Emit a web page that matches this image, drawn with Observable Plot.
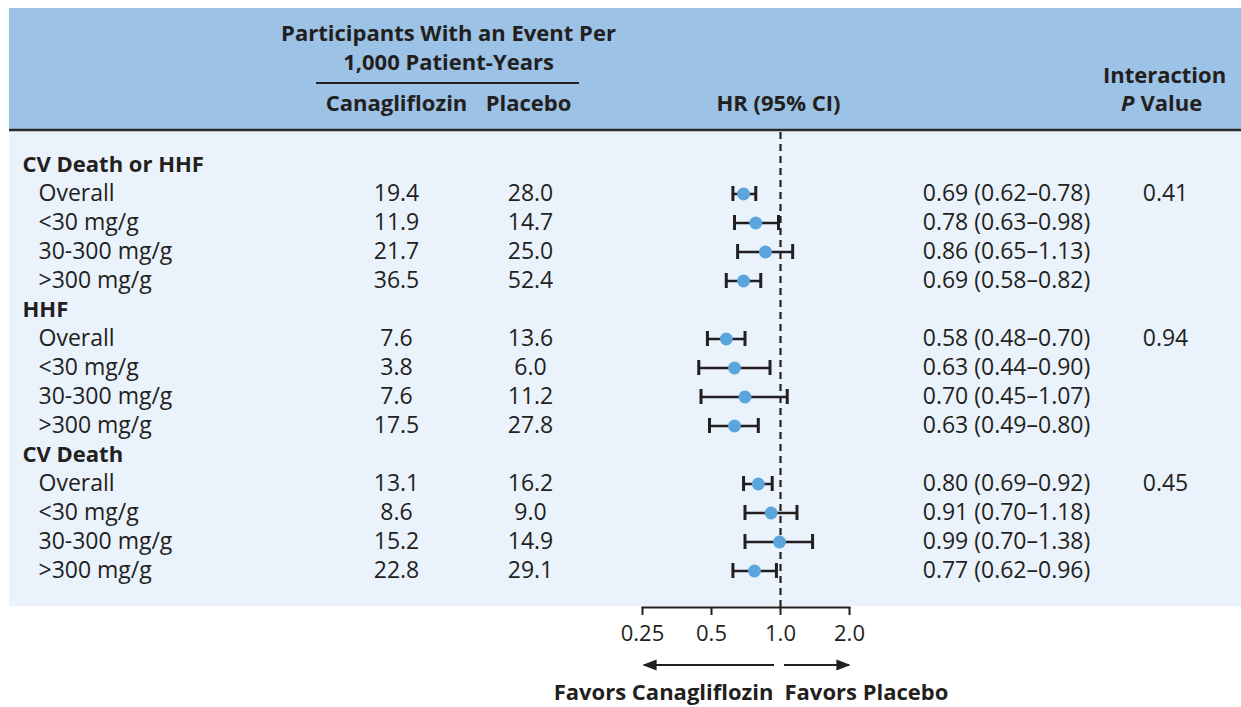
<!DOCTYPE html>
<html>
<head>
<meta charset="utf-8">
<script src="https://cdn.jsdelivr.net/npm/d3@7"></script>
<script src="https://cdn.jsdelivr.net/npm/@observablehq/plot@0.6"></script>
<style>
  html, body { margin: 0; padding: 0; background: #fff; }
  svg { display: block; }
</style>
</head>
<body>
<div id="chart"></div>
<script>
// ---- data ----
const outcomes = ["CV Death or HHF", "HHF", "CV Death"];
const subgroups = ["Overall", "<30 mg/g", "30-300 mg/g", ">300 mg/g"];
const canaRate    = [19.4, 11.9, 21.7, 36.5, 7.6, 3.8, 7.6, 17.5, 13.1, 8.6, 15.2, 22.8];
const placeboRate = [28.0, 14.7, 25.0, 52.4, 13.6, 6.0, 11.2, 27.8, 16.2, 9.0, 14.9, 29.1];
const hrEst = [0.69, 0.78, 0.86, 0.69, 0.58, 0.63, 0.70, 0.63, 0.80, 0.91, 0.99, 0.77];
const hrLow = [0.62, 0.63, 0.65, 0.58, 0.48, 0.44, 0.45, 0.49, 0.69, 0.70, 0.70, 0.62];
const hrHigh = [0.78, 0.98, 1.13, 0.82, 0.70, 0.90, 1.07, 0.80, 0.92, 1.18, 1.38, 0.96];
const pInteraction = ["0.41", "0.94", "0.45"];
const xTicks = [0.25, 0.5, 1, 2];
const xTickLabels = ["0.25", "0.5", "1.0", "2.0"];

// ---- build tables ----
const rowKeys = [];
const headerRows = [];
const subRows = [];
outcomes.forEach((o, i) => {
  rowKeys.push(o);
  headerRows.push({key: o, label: o});
  subgroups.forEach((s, j) => {
    const k = i * subgroups.length + j;
    const key = o + "|" + s;
    rowKeys.push(key);
    subRows.push({
      key, label: s,
      cana: canaRate[k].toFixed(1),
      plac: placeboRate[k].toFixed(1),
      hr: hrEst[k], lo: hrLow[k], hi: hrHigh[k],
      hrText: `${hrEst[k].toFixed(2)} (${hrLow[k].toFixed(2)}\u2013${hrHigh[k].toFixed(2)})`,
      p: j === 0 ? pInteraction[i] : ""
    });
  });
});

const W = 1241, H = 707;
const mL = 642, mR = W - 849, mT = 132, mB = H - 607;
const FONT = "'Open Sans', 'Noto Sans', sans-serif";
const ink = "#231f20";
const rowStep = (573 - 163) / 14;

// background bands (decoration)
function backgrounds() {
  const g = d3.create("svg:g");
  g.append("rect").attr("x", 9).attr("y", 8).attr("width", W - 9).attr("height", 122).attr("fill", "#9cc2e6");
  g.append("rect").attr("x", 9).attr("y", 131).attr("width", W - 9).attr("height", 475).attr("fill", "#eaf2fb");
  g.append("line").attr("x1", 9).attr("x2", W).attr("y1", 130).attr("y2", 130).attr("stroke", "#2b2b2b").attr("stroke-width", 2.5);
  g.append("line").attr("x1", 316).attr("x2", 579).attr("y1", 83).attr("y2", 83).attr("stroke", ink).attr("stroke-width", 2);
  return g.node();
}

// arrows below the axis
function arrows() {
  const g = d3.create("svg:g");
  const y = 665;
  const defs = g.append("defs");
  defs.append("marker").attr("id", "ah").attr("viewBox", "0 0 10 10").attr("refX", 9).attr("refY", 5)
    .attr("markerWidth", 7).attr("markerHeight", 7).attr("markerUnits", "strokeWidth").attr("orient", "auto")
    .append("path").attr("d", "M0,1 L10,5 L0,9 Z").attr("fill", ink);
  g.append("line").attr("x1", 774).attr("x2", 644).attr("y1", y).attr("y2", y).attr("stroke", ink).attr("stroke-width", 2).attr("marker-end", "url(#ah)");
  g.append("line").attr("x1", 784).attr("x2", 849).attr("y1", y).attr("y2", y).attr("stroke", ink).attr("stroke-width", 2).attr("marker-end", "url(#ah)");
  return g.node();
}

const txt = {fontFamily: FONT, fontSize: 23, fill: ink, lineAnchor: "middle", fontWeight: 500};
const bold = {...txt, fontSize: 22, fontWeight: 700, textAnchor: "middle"};

const chart = Plot.plot({
  width: W, height: H,
  marginLeft: mL, marginRight: mR, marginTop: mT, marginBottom: mB,
  style: {fontFamily: FONT, background: "white", overflow: "visible"},
  x: {type: "log", base: 2, domain: [0.25, 2], axis: null},
  y: {type: "band", domain: rowKeys, range: [163 - rowStep / 2, 573 + rowStep / 2], padding: 0, axis: null},
  marks: [
    backgrounds,
    // dashed reference line
    Plot.ruleX([1], {stroke: ink, strokeWidth: 2.2, strokeDasharray: "7,5"}),
    // axis line + ticks + labels
    Plot.frame({anchor: "bottom", stroke: ink, strokeWidth: 2}),
    Plot.axisX(xTicks, {anchor: "bottom", tickSize: 8, tickPadding: 10, strokeWidth: 2, stroke: ink,
      tickFormat: (d) => xTickLabels[xTicks.indexOf(d)], fontSize: 22, fontWeight: 500, fill: ink, fontFamily: FONT}),
    arrows,
    Plot.text(["Favors Canagliflozin"], {frameAnchor: "bottom-left", dx: 773 - mL, dy: 85, ...bold, textAnchor: "end"}),
    Plot.text(["Favors Placebo"], {frameAnchor: "bottom-left", dx: 784 - mL, dy: 85, ...bold, textAnchor: "start"}),
    // header text
    Plot.text(["Participants With an Event Per"], {frameAnchor: "top-left", dx: 448 - mL, dy: 33 - mT, ...bold}),
    Plot.text(["1,000 Patient-Years"], {frameAnchor: "top-left", dx: 448 - mL, dy: 62 - mT, ...bold}),
    Plot.text(["Canagliflozin"], {frameAnchor: "top-left", dx: 396 - mL, dy: 103 - mT, ...bold}),
    Plot.text(["Placebo"], {frameAnchor: "top-left", dx: 528 - mL, dy: 103 - mT, ...bold}),
    Plot.text(["HR (95% CI)"], {frameAnchor: "top-left", dx: 778 - mL, dy: 103 - mT, ...bold}),
    Plot.text(["Interaction"], {frameAnchor: "top-left", dx: 1164 - mL, dy: 75 - mT, ...bold}),
    Plot.text(["P"], {frameAnchor: "top-left", dx: 1134 - mL, dy: 103 - mT, ...bold, fontStyle: "italic", textAnchor: "end"}),
    Plot.text(["Value"], {frameAnchor: "top-left", dx: 1140 - mL, dy: 103 - mT, ...bold, textAnchor: "start"}),
    // row labels
    Plot.text(headerRows, {y: "key", text: "label", frameAnchor: "left", dx: 22 - mL, ...bold, textAnchor: "start"}),
    Plot.text(subRows, {y: "key", text: "label", frameAnchor: "left", dx: 38 - mL, ...txt, textAnchor: "start"}),
    Plot.text(subRows, {y: "key", text: "cana", frameAnchor: "left", dx: 396 - mL, ...txt, textAnchor: "middle"}),
    Plot.text(subRows, {y: "key", text: "plac", frameAnchor: "left", dx: 530 - mL, ...txt, textAnchor: "middle"}),
    Plot.text(subRows, {y: "key", text: "hrText", frameAnchor: "left", dx: 1006 - mL, ...txt, textAnchor: "middle"}),
    Plot.text(subRows, {y: "key", text: "p", frameAnchor: "left", dx: 1165 - mL, ...txt, textAnchor: "middle"}),
    // CIs
    Plot.ruleY(subRows, {y: "key", x1: "lo", x2: "hi", stroke: ink, strokeWidth: 2.5}),
    Plot.tickX(subRows, {y: "key", x: "lo", stroke: ink, strokeWidth: 3, inset: 7}),
    Plot.tickX(subRows, {y: "key", x: "hi", stroke: ink, strokeWidth: 3, inset: 7}),
    Plot.dot(subRows, {y: "key", x: "hr", r: 6.5, fill: "#5aa6dc", stroke: "none"})
  ]
});
document.getElementById("chart").appendChild(chart);
</script>
</body>
</html>
